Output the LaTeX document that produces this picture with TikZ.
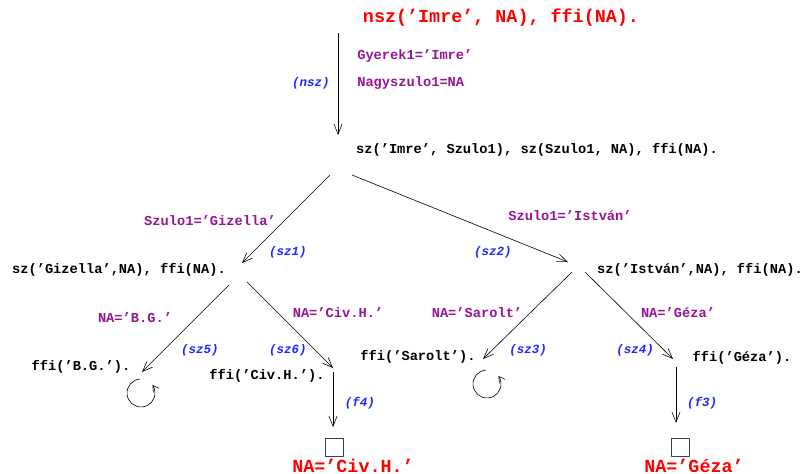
\documentclass[tikz,border=0pt]{standalone}
\usepackage{fontspec}
\setmonofont{Liberation Mono}
\usetikzlibrary{arrows.meta}
\definecolor{lila}{RGB}{150,20,150}
\definecolor{kek}{RGB}{30,40,255}
\begin{document}
\begin{tikzpicture}[x=1pt,y=-1pt,line join=round,line width=.6pt,
		>={Straight Barb[length=10pt,width=8pt]},
		cel/.style={text=red,inner sep=0pt,font=\ttfamily\bfseries\fontsize{18.4}{20}\selectfont},
		resz/.style={inner sep=0pt,font=\ttfamily\bfseries\fontsize{13.7}{16}\selectfont},
		hely/.style={text=lila,inner sep=0pt,font=\ttfamily\bfseries\fontsize{13.7}{16}\selectfont},
		szabaly/.style={text=kek,inner sep=0pt,font=\ttfamily\bfseries\itshape\fontsize{12.5}{15}\selectfont},
		doboz/.style={draw=black!75,minimum size=18pt,inner sep=0pt}]
		\useasboundingbox (0,0) rectangle (807,474);
		%==célok
		\node[cel,anchor=base] (K) at (501,22) {nsz(’Imre’, NA), ffi(NA).};
		\node[resz] (G0) at (537,150) {sz(’Imre’, Szulo1), sz(Szulo1, NA), ffi(NA).};
		\node[resz] (G1) at (119,270) {sz(’Gizella’,NA), ffi(NA).};
		\node[resz] (G2) at (700,270) {sz(’István’,NA), ffi(NA).};
		\node[resz] (G5) at (81,367) {ffi(’B.G.’).};
		\node[resz] (G6) at (267,376) {ffi(’Civ.H.’).};
		\node[resz] (G3) at (418,357) {ffi(’Sarolt’).};
		\node[resz] (G4) at (742,358) {ffi(’Géza’).};
		%==helyettesítések
		\node[hely,anchor=west] (H0) at (357,56) {Gyerek1=’Imre’};
		\node[hely,anchor=west] (H0') at (357,83) {Nagyszulo1=NA};
		\node[hely] (H1) at (210,221) {Szulo1=’Gizella’};
		\node[hely] (H2) at (570,216) {Szulo1=’István’};
		\node[hely] (H5) at (135,318) {NA=’B.G.’};
		\node[hely] (H6) at (338,313) {NA=’Civ.H.’};
		\node[hely] (H3) at (477,313) {NA=’Sarolt’};
		\node[hely] (H4) at (678,313) {NA=’Géza’};
		\foreach \r/\x/\y in {nsz/311/83,sz1/288/252,sz2/493/252,sz5/200/350,sz6/288/350,sz3/528/350,sz4/635/350,f4/360/403,f3/702/403}
			\node[szabaly] (R\r) at (\x,\y) {(\r)};
		%==végek
		\node[doboz] (D4) at (334,447) {};
		\node[doboz] (D3) at (680,447) {};
		\node[cel,anchor=base] (V4) at (353,472) {NA=’Civ.H.’};
		\node[cel,anchor=base] (V3) at (694,472) {NA=’Géza’};
		%==nyilak
		\foreach \p/\x/\y in {A/338/33,A'/338/135,B/330/175,B'/242/263,C/352/175,C'/568/262,
			D/229/285,D'/142/372,E/247/282,E'/333/368,F/572/272,F'/483/359,G/585/272,G'/673/359,
			P/333/372,P'/333/427,Q/676/367,Q'/676/423,L/141/393,M/487/384}
			\coordinate (\p) at (\x,\y);
		\foreach \u in {A,B,C,D,E,F,G,P,Q}\draw[->] (\u)--(\u');
		\foreach \u in {L,M}\draw[-{Straight Barb[length=6pt,width=7pt]}] (\u)++(-95:14) arc[start angle=-95,end angle=-395,radius=14];
	\end{tikzpicture}
\end{document}
